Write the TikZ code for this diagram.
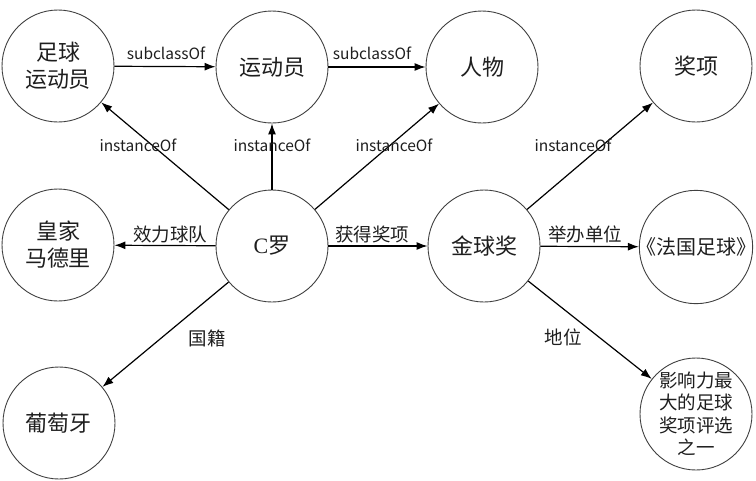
\documentclass[tikz,border=0pt]{standalone}
\usepackage{fontspec}
\setmainfont{Noto Sans CJK SC}
\newfontfamily\serifC{Liberation Serif}
\usetikzlibrary{arrows.meta}
\definecolor{ink}{HTML}{1E1E1E}
\tikzset{
  ent/.style={circle, draw=ink!85, line width=0.9pt, minimum size=112pt, inner sep=0pt,
              align=center, text=ink, font={\fontsize{22}{27}\selectfont}},
  rel/.style={draw=black, line width=1.2pt, -{Latex[length=11pt,width=8pt]}},
  lab/.style={text=ink, inner sep=1pt, font={\fontsize{15.5}{18}\selectfont}},
  labz/.style={text=ink, inner sep=1pt, font={\fontsize{18.5}{20}\selectfont}}
}
\begin{document}
\begin{tikzpicture}[x=1pt,y=-1pt]
\useasboundingbox (0,0) rectangle (756,480);
% entities
\node[ent] (zq) at (58,66) {足球\\运动员};
\node[ent] (ydy) at (272,67) {运动员};
\node[ent] (rw) at (482,67) {人物};
\node[ent] (jx) at (696,66) {奖项};
\node[ent] (hj) at (58,245) {皇家\\马德里};
\node[ent] (cl) at (272,246) {{\serifC C}罗};
\node[ent] (jqj) at (484,246) {金球奖};
\node[ent, font={\fontsize{20}{24}\selectfont}] (fg) at (696,247) {\hspace*{-4pt}《法国足球》\hspace*{-4pt}};
\node[ent] (pty) at (59,423) {葡萄牙};
\node[ent, font={\fontsize{18.5}{22.5}\selectfont}] (yxl) at (696,414) {影响力最\\大的足球\\奖项评选\\之一};
% relations
\draw[rel] (zq) -- (ydy);
\draw[rel] (ydy) -- (rw);
\draw[rel] (cl) -- (zq);
\draw[rel] (cl) -- (ydy);
\draw[rel] (cl) -- (rw);
\draw[rel] (jqj) -- (jx);
\draw[rel] (cl) -- (hj);
\draw[rel] (cl) -- (jqj);
\draw[rel] (jqj) -- (fg);
\draw[rel] (cl) -- (pty);
\draw[rel] (jqj) -- (yxl);
% labels
\node[lab] (l1) at (166,53) {subclassOf};
\node[lab] (l2) at (372,53) {subclassOf};
\node[lab] (l3) at (138,145) {instanceOf};
\node[lab] (l4) at (272,145) {instanceOf};
\node[lab] (l5) at (394,145) {instanceOf};
\node[lab] (l6) at (573,145) {instanceOf};
\node[labz] (l7) at (170,234) {效力球队};
\node[labz] (l8) at (372,234) {获得奖项};
\node[labz] (l9) at (585,234) {举办单位};
\node[labz] (l10) at (207,338) {国籍};
\node[labz] (l11) at (563,337) {地位};
\end{tikzpicture}
\end{document}
